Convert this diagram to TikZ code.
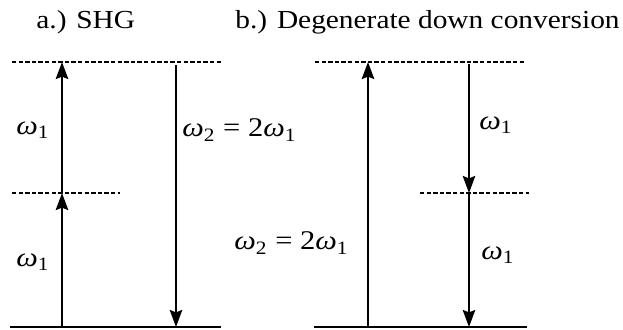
\documentclass[tikz,border=0pt]{standalone}
\usepackage{fontspec}
\setmainfont{Liberation Serif}
\newfontfamily\widefont[FakeStretch=1.13]{Liberation Serif}
\usetikzlibrary{arrows.meta}
\newcommand{\wsub}[1]{\textit{ω}\textsubscript{#1}}
\begin{document}
\begin{tikzpicture}[x=0.5pt,y=-0.5pt,
  level/.style={line width=1.25pt},
  virt/.style={line width=0.85pt,dash pattern=on 2.2pt off 1.1pt},
  trans/.style={line width=1.2pt,-{Stealth[length=8.5pt,width=6.2pt,inset=1.2pt]}},
  lbl/.style={inner sep=0pt,font=\widefont\fontsize{13.5}{16}\selectfont},
  ttl/.style={inner sep=0pt,anchor=base west,font=\widefont\fontsize{13}{15}\selectfont}]
\useasboundingbox (0,0) rectangle (623,329);
% titles
\node[ttl] (ta) at (36,28) {a.) SHG};
\node[ttl] (tb) at (235,28) {b.) Degenerate down conversion};
% panel a levels
\coordinate (aTL) at (12,62);  \coordinate (aTR) at (221,62);
\coordinate (aML) at (12,193); \coordinate (aMR) at (120,193);
\coordinate (aGL) at (10,327); \coordinate (aGR) at (221,327);
\draw[virt] (aTL) -- (aTR);
\draw[virt] (aML) -- (aMR);
\draw[level] (aGL) -- (aGR);
\coordinate (a1) at (62,327); \coordinate (a2) at (62,193); \coordinate (a3) at (62,62);
\draw[trans] (a1) -- (a2);
\draw[trans] (a2) -- (a3);
\coordinate (a4) at (176,65); \coordinate (a5) at (176,327);
\draw[trans] (a4) -- (a5);
\node[lbl] (la1) at (33,130) {\wsub{1}};
\node[lbl] (la2) at (33,262) {\wsub{1}};
\node[lbl,anchor=west] (la3) at (182,130) {\wsub{2} = 2\wsub{1}};
% panel b levels
\coordinate (bTL) at (315,62);  \coordinate (bTR) at (526,62);
\coordinate (bML) at (420,193); \coordinate (bMR) at (529,193);
\coordinate (bGL) at (314,327); \coordinate (bGR) at (527,327);
\draw[virt] (bTL) -- (bTR);
\draw[virt] (bML) -- (bMR);
\draw[level] (bGL) -- (bGR);
\coordinate (b1) at (368,327); \coordinate (b2) at (368,62);
\draw[trans] (b1) -- (b2);
\coordinate (b3) at (469,64); \coordinate (b4) at (469,193); \coordinate (b5) at (469,327);
\draw[trans] (b3) -- (b4);
\draw[trans] (b4) -- (b5);
\node[lbl] (lb1) at (496,125) {\wsub{1}};
\node[lbl] (lb2) at (498,255) {\wsub{1}};
\node[lbl,anchor=east] (lb3) at (349,243) {\wsub{2} = 2\wsub{1}};
\end{tikzpicture}
\end{document}
